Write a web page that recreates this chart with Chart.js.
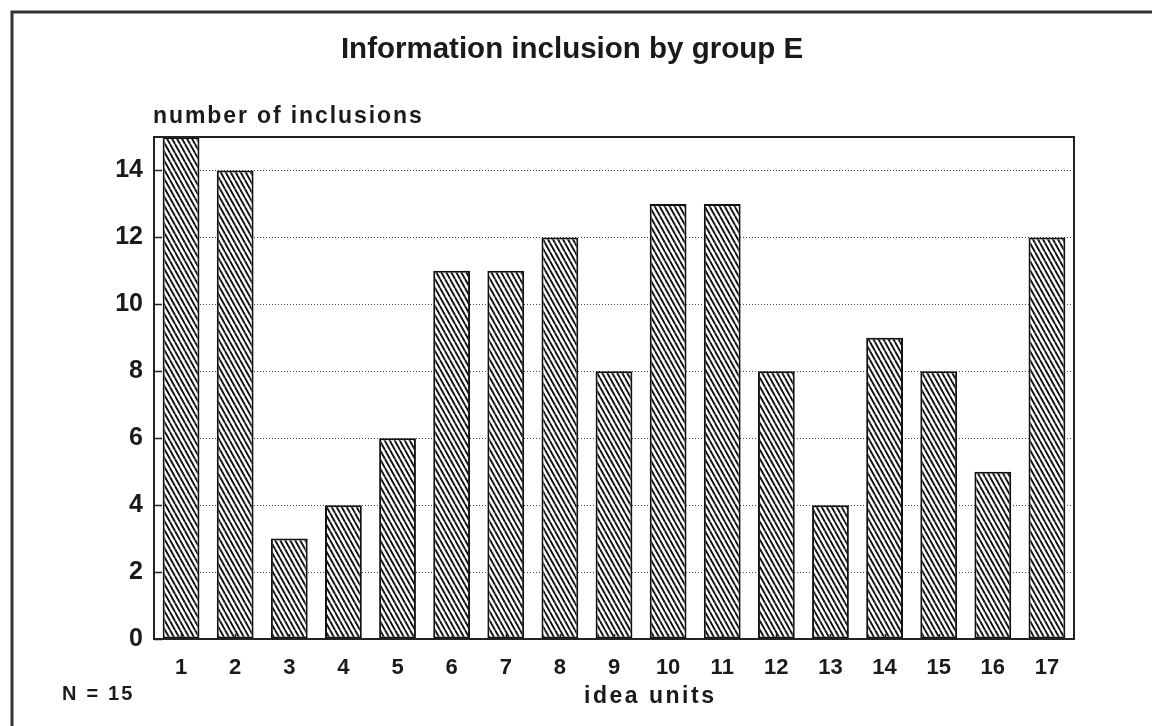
<!DOCTYPE html>
<html>
<head>
<meta charset="utf-8">
<title>Information inclusion by group E</title>
<script src="https://cdn.jsdelivr.net/npm/chart.js@4.4.0/dist/chart.umd.min.js"></script>
<style>
    html, body { margin: 0; padding: 0; background: #fff; }
    #wrap { width: 1152px; height: 726px; }
</style>
</head>
<body>
<div id="wrap"><canvas id="myChart" width="1152" height="726"></canvas></div>
<script>
// ----- DATA -----
const ideaUnits = ['1', '2', '3', '4', '5', '6', '7', '8', '9', '10', '11', '12', '13', '14', '15', '16', '17'];
const inclusions = [15, 14, 3, 4, 6, 11, 11, 12, 8, 13, 13, 8, 4, 9, 8, 5, 12];
const yTicks = [0, 2, 4, 6, 8, 10, 12, 14];
const yMax = 15;

const chartTitle = 'Information inclusion by group E';
const yTitle = 'number of inclusions';
const xTitle = 'idea units';
const noteText = 'N = 15';

const fontName = '"Liberation Sans", Arial, Helvetica, sans-serif';

// pola garis miring untuk isi bar
function makeHatch() {
    const w = 5, h = 9;
    const c = document.createElement('canvas');
    c.width = w;
    c.height = h;
    const g = c.getContext('2d');
    g.fillStyle = '#fff';
    g.fillRect(0, 0, w, h);
    g.strokeStyle = '#111';
    g.lineWidth = 1.9;
    g.beginPath();
    [-w, 0, w].forEach(k => {
        g.moveTo(k, 0);
        g.lineTo(k + w, h);
    });
    g.stroke();
    return g.createPattern(c, 'repeat');
}

// tulis teks dengan jarak huruf
function spacedText(ctx, text, x, y, spacing) {
    ctx.letterSpacing = spacing + 'px';
    const w = ctx.measureText(text).width - spacing;
    let startX = x;
    if (ctx.textAlign === 'center') startX = x - w / 2;
    const oldAlign = ctx.textAlign;
    ctx.textAlign = 'left';
    ctx.fillText(text, startX, y);
    ctx.textAlign = oldAlign;
    ctx.letterSpacing = '0px';
}

// teks, bingkai, dan tick ke dalam
const decorPlugin = {
    id: 'decor',
    beforeDraw(chart) {
        const ctx = chart.ctx;
        ctx.save();
        ctx.fillStyle = '#fff';
        ctx.fillRect(0, 0, chart.width, chart.height);
        ctx.strokeStyle = '#333';
        ctx.lineWidth = 3;
        ctx.strokeRect(12, 12, chart.width + 20, chart.height + 20);
        ctx.restore();
    },
    afterDatasetsDraw(chart) {
        const ctx = chart.ctx;
        const area = chart.chartArea;
        const xs = chart.scales.x;
        const ys = chart.scales.y;
        ctx.save();
        ctx.strokeStyle = '#222';
        ctx.lineWidth = 1.5;
        ctx.beginPath();
        ys.ticks.forEach((t, i) => {
            const y = Math.round(ys.getPixelForTick(i)) + 0.5;
            ctx.moveTo(area.left, y);
            ctx.lineTo(area.left + 8, y);
        });
        xs.ticks.forEach((t, i) => {
            const x = Math.round(xs.getPixelForTick(i)) + 0.5;
            ctx.moveTo(x, area.bottom);
            ctx.lineTo(x, area.bottom - 5);
        });
        ctx.stroke();
        // kotak plot
        ctx.strokeStyle = '#222';
        ctx.lineWidth = 2;
        ctx.strokeRect(area.left, area.top, area.right - area.left, area.bottom - area.top);

        ctx.fillStyle = '#1a1a1a';
        ctx.textBaseline = 'alphabetic';
        ctx.font = 'bold 29.5px ' + fontName;
        ctx.textAlign = 'center';
        spacedText(ctx, chartTitle, 572, 58, 0);

        ctx.font = 'bold 23px ' + fontName;
        ctx.textAlign = 'left';
        spacedText(ctx, yTitle, 153, 123, 1.9);

        ctx.textAlign = 'center';
        spacedText(ctx, xTitle, 649, 703, 2.5);

        ctx.font = 'bold 20px ' + fontName;
        ctx.textAlign = 'left';
        spacedText(ctx, noteText, 62, 700, 2.2);
        ctx.restore();
    }
};

const ctx = document.getElementById('myChart').getContext('2d');

new Chart(ctx, {
    type: 'bar',
    data: {
        labels: ideaUnits,
        datasets: [{
            label: yTitle,
            data: inclusions,
            backgroundColor: makeHatch(),
            borderColor: '#111',
            borderWidth: 2,
            borderSkipped: false,
            barPercentage: 0.68,
            categoryPercentage: 1.0
        }]
    },
    options: {
        responsive: false,
        animation: false,
        devicePixelRatio: 1,
        layout: {
            padding: { left: 0, top: 137, right: 78, bottom: 0 }
        },
        plugins: {
            legend: { display: false },
            title: { display: false },
            tooltip: { enabled: false }
        },
        scales: {
            x: {
                grid: { display: false, drawTicks: false },
                border: { display: true, color: '#222', width: 2 },
                ticks: {
                    color: '#1a1a1a',
                    padding: 16,
                    maxRotation: 0,
                    font: { family: fontName, size: 22, weight: 'bold' }
                },
                afterFit(scale) { scale.height = 87; }
            },
            y: {
                min: 0,
                max: yMax,
                afterBuildTicks(scale) {
                    scale.ticks = yTicks.map(v => ({ value: v }));
                },
                grid: {
                    color: '#444',
                    lineWidth: 1,
                    drawTicks: false
                },
                border: { display: true, color: '#222', width: 2, dash: [1, 2] },
                ticks: {
                    color: '#1a1a1a',
                    padding: 11,
                    font: { family: fontName, size: 25, weight: 'bold' }
                },
                afterFit(scale) { scale.width = 154; }
            }
        }
    },
    plugins: [decorPlugin]
});
</script>
</body>
</html>
